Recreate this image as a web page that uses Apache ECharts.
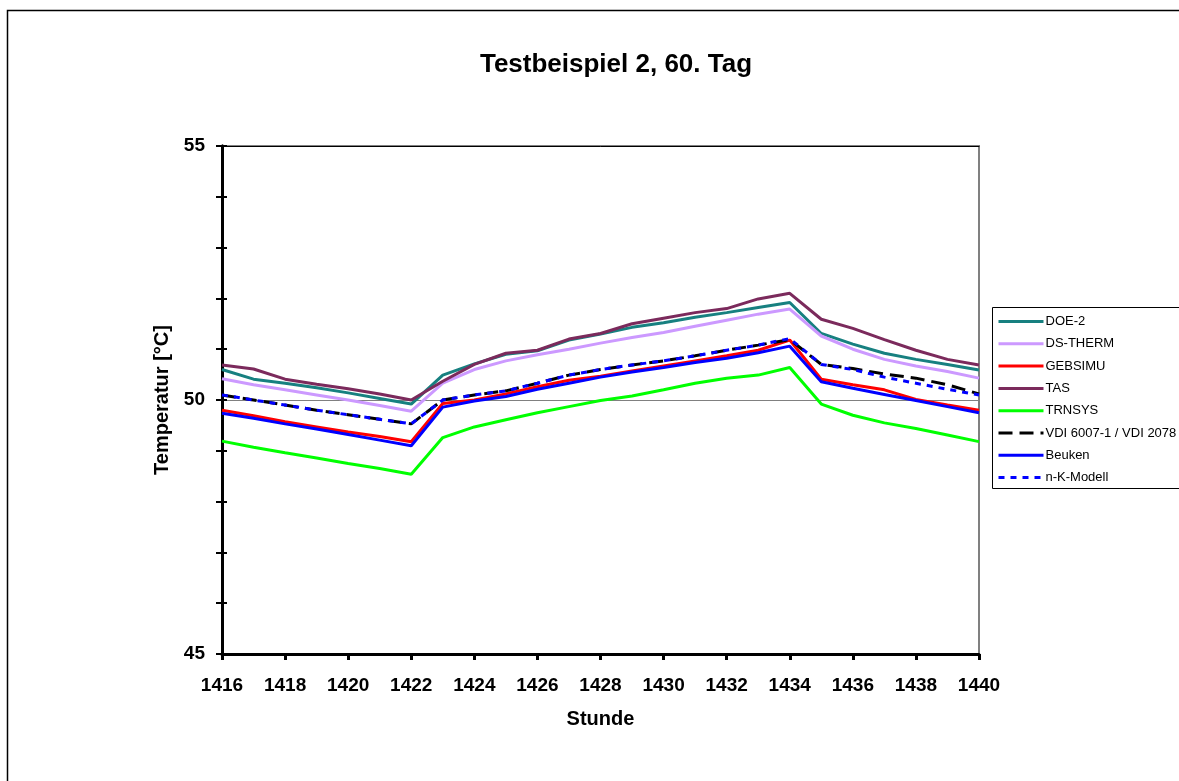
<!DOCTYPE html>
<html>
<head>
<meta charset="utf-8">
<script src="https://cdn.jsdelivr.net/npm/echarts@6/dist/echarts.min.js"></script>
<style>
  html, body { margin: 0; padding: 0; background: #fff; }
  #chart { width: 1179px; height: 781px; }
</style>
</head>
<body>
<div id="chart"></div>
<script>
var hours = [1416, 1417, 1418, 1419, 1420, 1421, 1422, 1423, 1424, 1425, 1426, 1427, 1428,
  1429, 1430, 1431, 1432, 1433, 1434, 1435, 1436, 1437, 1438, 1439, 1440]

var doe2 = [50.60, 50.41, 50.33, 50.24, 50.14, 50.03, 49.92, 50.49, 50.71, 50.90, 50.97, 51.18, 51.30,
  51.43, 51.52, 51.63, 51.72, 51.82, 51.92, 51.31, 51.10, 50.92, 50.80, 50.70, 50.59]
var dsTherm = [50.42, 50.30, 50.20, 50.10, 50.00, 49.89, 49.78, 50.33, 50.60, 50.77, 50.89, 51.00, 51.12,
  51.23, 51.33, 51.45, 51.57, 51.69, 51.79, 51.26, 51.00, 50.80, 50.67, 50.56, 50.43]
var gebsimu = [49.80, 49.69, 49.57, 49.47, 49.37, 49.28, 49.18, 49.93, 50.00, 50.12, 50.26, 50.39, 50.47,
  50.57, 50.67, 50.77, 50.87, 50.98, 51.18, 50.41, 50.30, 50.20, 50.01, 49.90, 49.80]
var tas = [50.69, 50.61, 50.41, 50.31, 50.22, 50.12, 50.00, 50.37, 50.70, 50.92, 50.98, 51.20, 51.31,
  51.50, 51.61, 51.72, 51.80, 51.99, 52.10, 51.59, 51.41, 51.19, 50.98, 50.80, 50.69]
var trnsys = [49.19, 49.07, 48.96, 48.86, 48.75, 48.65, 48.54, 49.26, 49.47, 49.61, 49.75, 49.87, 49.99,
  50.08, 50.20, 50.33, 50.43, 50.49, 50.64, 49.92, 49.70, 49.55, 49.44, 49.31, 49.18]
var vdi = [50.10, 50.00, 49.90, 49.80, 49.71, 49.62, 49.53, 50.00, 50.10, 50.18, 50.33, 50.49, 50.60,
  50.69, 50.77, 50.87, 50.98, 51.08, 51.19, 50.70, 50.62, 50.51, 50.43, 50.30, 50.12]
var beuken = [49.74, 49.64, 49.53, 49.43, 49.32, 49.21, 49.10, 49.86, 49.98, 50.07, 50.21, 50.33, 50.45,
  50.55, 50.64, 50.74, 50.82, 50.93, 51.06, 50.36, 50.23, 50.11, 49.99, 49.87, 49.75]
var nkModell = [50.10, 50.00, 49.90, 49.80, 49.71, 49.62, 49.53, 50.00, 50.10, 50.18, 50.33, 50.49, 50.60,
  50.69, 50.77, 50.87, 50.98, 51.08, 51.21, 50.70, 50.60, 50.45, 50.33, 50.21, 50.10]

var seriesNames = ['DOE-2', 'DS-THERM', 'GEBSIMU', 'TAS', 'TRNSYS', 'VDI 6007-1 / VDI 2078', 'Beuken', 'n-K-Modell']
var seriesValues = [doe2, dsTherm, gebsimu, tas, trnsys, vdi, beuken, nkModell]
var seriesColors = ['#178080', '#cc99ff', '#ff0000', '#7b2a5c', '#00ff00', '#000000', '#0000ff', '#0000ff']
var seriesDash = ['solid', 'solid', 'solid', 'solid', 'solid', [14, 7], 'solid', [6, 6]]

var font = 'Arial, "Liberation Sans", sans-serif'

function pairs(vals) {
  return vals.map(function (v, i) { return [hours[i], v] })
}

var chart = echarts.init(document.getElementById('chart'))
chart.setOption({
  animation: false,
  backgroundColor: '#fff',
  title: {
    text: 'Testbeispiel 2, 60. Tag',
    left: 611,
    top: 47,
    textAlign: 'center',
    textStyle: { fontFamily: font, fontSize: 26, fontWeight: 'bold', color: '#000' }
  },
  grid: { left: 222, right: 200, top: 146, bottom: 127, show: true, borderColor: '#808080', borderWidth: 2 },
  legend: {
    orient: 'vertical',
    left: 997,
    top: 315,
    padding: 0,
    itemWidth: 45,
    itemHeight: 14,
    itemGap: 9.3,
    data: seriesNames,
    itemStyle: { opacity: 0 },
    lineStyle: { width: 3 },
    textStyle: { fontFamily: font, fontSize: 13, color: '#000', padding: [0, 0, 0, -3] }
  },
  graphic: [
    { type: 'rect', shape: { x: 7.5, y: 10.5, width: 1200, height: 800 },
      style: { fill: 'none', stroke: '#000', lineWidth: 1.5 }, silent: true },
    { type: 'rect', shape: { x: 992.5, y: 307.5, width: 200, height: 181 },
      style: { fill: 'none', stroke: '#000', lineWidth: 1 }, silent: true }
  ],
  xAxis: [
    {
      type: 'value',
      min: 1416,
      max: 1440,
      interval: 2,
      name: 'Stunde',
      nameLocation: 'middle',
      nameGap: 55,
      nameTextStyle: { fontFamily: font, fontSize: 20, fontWeight: 'bold', color: '#000' },
      axisLine: { lineStyle: { color: '#000', width: 3 } },
      axisTick: { length: 6, lineStyle: { color: '#000', width: 3 } },
      axisLabel: {
        margin: 22, fontFamily: font, fontSize: 19, fontWeight: 'bold', color: '#000',
        formatter: function (v) { return String(v) }
      },
      splitLine: { show: false }
    },
    {
      type: 'value',
      position: 'top',
      min: 1416,
      max: 1440,
      axisLine: { show: true, lineStyle: { color: '#000', width: 1 } },
      axisTick: { show: false },
      axisLabel: { show: false },
      splitLine: { show: false }
    }
  ],
  yAxis: [
    {
      type: 'value',
      min: 45,
      max: 55,
      interval: 5,
      name: 'Temperatur [°C]',
      nameLocation: 'middle',
      nameGap: 50,
      nameTextStyle: { fontFamily: font, fontSize: 20, fontWeight: 'bold', color: '#000' },
      axisLine: { show: true, lineStyle: { color: '#000', width: 3 } },
      axisTick: { length: 6, lineStyle: { color: '#000', width: 2 } },
      minorTick: { show: true, splitNumber: 5, length: 6, lineStyle: { color: '#000', width: 2 } },
      axisLabel: { margin: 17, fontFamily: font, fontSize: 19, fontWeight: 'bold', color: '#000' },
      splitLine: { show: true, lineStyle: { color: '#808080', width: 1 } }
    },
    {
      // second axis moved onto the left edge so ticks cross the axis line
      type: 'value',
      position: 'right',
      offset: -757,
      min: 45,
      max: 55,
      interval: 5,
      axisLine: { show: true, onZero: false, lineStyle: { color: '#000', width: 3 } },
      axisTick: { show: true, inside: false, length: 5, lineStyle: { color: '#000', width: 2 } },
      minorTick: { show: true, splitNumber: 5, length: 5, lineStyle: { color: '#000', width: 2 } },
      axisLabel: { show: false },
      splitLine: { show: false }
    }
  ],
  series: seriesNames.map(function (name, i) {
    return {
      name: name,
      type: 'line',
      data: pairs(seriesValues[i]),
      symbol: 'none',
      color: seriesColors[i],
      lineStyle: { color: seriesColors[i], width: 3, type: seriesDash[i] },
      z: 2 + i
    }
  })
})
</script>
</body>
</html>
